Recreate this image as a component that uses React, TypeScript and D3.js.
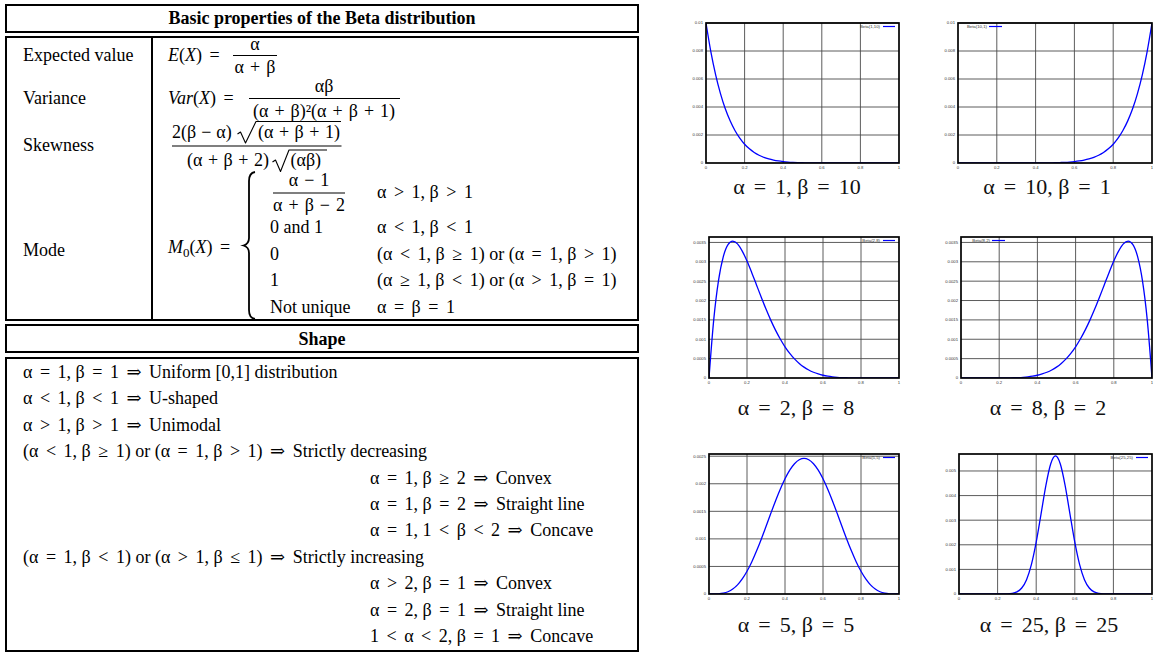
import React from "react";
import * as d3 from "d3";

// ---------- DATA ----------
const xGrid = [0, 0.025, 0.05, 0.075, 0.1, 0.125, 0.15, 0.175, 0.2, 0.225, 0.25, 0.275, 0.3, 0.325, 0.35, 0.375, 0.4, 0.425, 0.45, 0.475, 0.5, 0.525, 0.55, 0.575, 0.6, 0.625, 0.65, 0.675, 0.7, 0.725, 0.75, 0.775, 0.8, 0.825, 0.85, 0.875, 0.9, 0.925, 0.95, 0.975, 1];

const beta_1_10 = [0.01, 0.00796, 0.0063, 0.00496, 0.00387, 0.00301, 0.00232, 0.00177, 0.00134, 0.00101, 0.000751, 0.000554, 0.000404, 0.000291, 0.000207, 0.000146, 0.000101, 0.0000687, 0.0000461, 0.0000303, 0.0000195, 0.0000123, 0.0000076, 0.0000046, 0.0000026, 0.0000014, 0.0000008, 0.0000004, 0.0000002, 0.0000001, 0, 0, 0, 0, 0, 0, 0, 0, 0, 0, 0];

const beta_10_1 = [0, 0, 0, 0, 0, 0, 0, 0, 0, 0, 0, 0.0000001, 0.0000002, 0.0000004, 0.0000008, 0.0000014, 0.0000026, 0.0000046, 0.0000076, 0.0000123, 0.0000195, 0.0000303, 0.0000461, 0.0000687, 0.000101, 0.000146, 0.000207, 0.000291, 0.000404, 0.000554, 0.000751, 0.00101, 0.00134, 0.00177, 0.00232, 0.00301, 0.00387, 0.00496, 0.0063, 0.00796, 0.01];

const beta_2_8 = [0, 0.001508, 0.002514, 0.003129, 0.003444, 0.003534, 0.003463, 0.003277, 0.00302, 0.00272, 0.002403, 0.002085, 0.001779, 0.001494, 0.001235, 0.001006, 0.000806, 0.000636, 0.000493, 0.000376, 0.000281, 0.000206, 0.000148, 0.000104, 0.0000708, 0.0000469, 0.0000301, 0.0000186, 0.000011, 0.0000062, 0.0000033, 0.0000016, 0.0000007, 0.0000003, 0.0000001, 0, 0, 0, 0, 0, 0];

const beta_8_2 = [0, 0, 0, 0, 0, 0, 0.0000001, 0.0000003, 0.0000007, 0.0000016, 0.0000033, 0.0000062, 0.000011, 0.0000186, 0.0000301, 0.0000469, 0.0000708, 0.000104, 0.000148, 0.000206, 0.000281, 0.000376, 0.000493, 0.000636, 0.000806, 0.001006, 0.001235, 0.001494, 0.001779, 0.002085, 0.002403, 0.00272, 0.00302, 0.003277, 0.003463, 0.003534, 0.003444, 0.003129, 0.002514, 0.001508, 0];

const beta_5_5 = [0, 0.00000022, 0.0000032, 0.0000146, 0.0000413, 0.0000902, 0.000166, 0.000274, 0.000413, 0.000582, 0.000779, 0.000995, 0.001225, 0.001459, 0.001688, 0.001901, 0.00209, 0.002247, 0.002364, 0.002436, 0.002461, 0.002436, 0.002364, 0.002247, 0.00209, 0.001901, 0.001688, 0.001459, 0.001225, 0.000995, 0.000779, 0.000582, 0.000413, 0.000274, 0.000166, 0.0000902, 0.0000413, 0.0000146, 0.0000032, 0.00000022, 0];

const beta_25_25 = [0, 0, 0, 0, 0, 0, 0, 0, 0.00000013, 0.000001, 0.0000056, 0.0000246, 0.0000855, 0.000244, 0.000584, 0.001192, 0.002107, 0.00325, 0.004409, 0.005285, 0.005612, 0.005285, 0.004409, 0.00325, 0.002107, 0.001192, 0.000584, 0.000244, 0.0000855, 0.0000246, 0.0000056, 0.000001, 0.00000013, 0, 0, 0, 0, 0, 0, 0, 0];

const xTicks = [0, 0.2, 0.4, 0.6, 0.8, 1];
const yTicks_10 = [0, 0.002, 0.004, 0.006, 0.008, 0.01];
const yTicks_28 = [0, 0.0005, 0.001, 0.0015, 0.002, 0.0025, 0.003, 0.0035];
const yTicks_55 = [0, 0.0005, 0.001, 0.0015, 0.002, 0.0025];
const yTicks_2525 = [0, 0.001, 0.002, 0.003, 0.004, 0.005];

const legendLabels = ["Beta(1,10)", "Beta(10,1)", "Beta(2,8)", "Beta(8,2)", "Beta(5,5)", "Beta(25,25)"];
const captions = ["α = 1, β = 10", "α = 10, β = 1", "α = 2, β = 8", "α = 8, β = 2", "α = 5, β = 5", "α = 25, β = 25"];
const yMaxes = [0.01, 0.01, 0.00364, 0.00364, 0.00254, 0.00569];

const seriesList = [beta_1_10, beta_10_1, beta_2_8, beta_8_2, beta_5_5, beta_25_25];
const tickList = [yTicks_10, yTicks_10, yTicks_28, yTicks_28, yTicks_55, yTicks_2525];

const modeValues = ["0 and 1", "0", "1", "Not unique"];
const modeConditions = ["α > 1, β > 1", "α < 1, β < 1", "(α < 1, β ≥ 1) or (α = 1, β > 1)", "(α ≥ 1, β < 1) or (α > 1, β = 1)", "α = β = 1"];
const shapeLines = [
  "α = 1, β = 1 ⇒ Uniform [0,1] distribution",
  "α < 1, β < 1 ⇒ U-shaped",
  "α > 1, β > 1 ⇒ Unimodal",
  "(α < 1, β ≥ 1) or (α = 1, β > 1) ⇒ Strictly decreasing",
  "α = 1, β ≥ 2 ⇒ Convex",
  "α = 1, β = 2 ⇒ Straight line",
  "α = 1, 1 < β < 2 ⇒ Concave",
  "(α = 1, β < 1) or (α > 1, β ≤ 1) ⇒ Strictly increasing",
  "α > 2, β = 1 ⇒ Convex",
  "α = 2, β = 1 ⇒ Straight line",
  "1 < α < 2, β = 1 ⇒ Concave",
];
const shapeIndented = [false, false, false, false, true, true, true, false, true, true, true];

// ---------- LAYOUT ----------
const boxes = [
  { l: 706, t: 23, r: 899, b: 163, legendLeft: false, cx: 797, cy: 194 },
  { l: 958, t: 23, r: 1152, b: 163, legendLeft: true, cx: 1047, cy: 194 },
  { l: 709, t: 237, r: 899, b: 378, legendLeft: false, cx: 796, cy: 415 },
  { l: 961, t: 237, r: 1152, b: 378, legendLeft: true, cx: 1048, cy: 415 },
  { l: 709, t: 454, r: 899, b: 594, legendLeft: false, cx: 796, cy: 632 },
  { l: 959, t: 454, r: 1152, b: 594, legendLeft: false, cx: 1049, cy: 632 },
];

const SERIF = "'Liberation Serif', 'Times New Roman', 'DejaVu Serif', serif";
const SANS = "'Liberation Sans', Arial, sans-serif";

// math-like spacing around relations and binary operators
function mathSpans(s: string, rel = 3, bin = 1.5) {
  const parts = s.split(/([=<>≥≤⇒+−])/);
  const out: React.ReactNode[] = [];
  let pending = 0;
  parts.forEach((p, i) => {
    if (p === "") return;
    if (/^[=<>≥≤⇒]$/.test(p)) {
      out.push(<tspan key={i} dx={pending + rel}>{p}</tspan>);
      pending = rel;
    } else if (/^[+−]$/.test(p)) {
      out.push(<tspan key={i} dx={pending + bin}>{p}</tspan>);
      pending = bin;
    } else {
      out.push(<tspan key={i} dx={pending}>{p}</tspan>);
      pending = 0;
    }
  });
  return out;
}

function Chart({ idx }: { idx: number }) {
  const box = boxes[idx];
  const values = seriesList[idx];
  const yTicks = tickList[idx];
  const x = d3.scaleLinear().domain([0, 1]).range([box.l, box.r]);
  const y = d3.scaleLinear().domain([0, yMaxes[idx]]).range([box.b, box.t]);
  const line = d3
    .line<number>()
    .x((_, i) => x(xGrid[i]))
    .y((d) => y(d))
    .curve(d3.curveMonotoneX);
  const clipId = `clip${idx}`;
  const ly = box.t + 3.5;
  return (
    <g>
      <defs>
        <clipPath id={clipId}>
          <rect x={box.l} y={box.t - 1} width={box.r - box.l} height={box.b - box.t + 1} />
        </clipPath>
      </defs>
      {xTicks.slice(1, -1).map((v) => (
        <line key={"gx" + v} x1={x(v)} x2={x(v)} y1={box.t} y2={box.b} stroke="#4a4a4a" strokeWidth={0.9} />
      ))}
      {yTicks.slice(1).map((v) => (
        <line key={"gy" + v} x1={box.l} x2={box.r} y1={y(v)} y2={y(v)} stroke="#4a4a4a" strokeWidth={0.9} />
      ))}
      {yTicks.map((v) => (
        <text key={"ty" + v} x={box.l - 3} y={y(v) + 1.4} fontSize={4.2} fontFamily={SANS} fill="#333" textAnchor="end">
          {String(v)}
        </text>
      ))}
      {xTicks.map((v) => (
        <text key={"tx" + v} x={x(v)} y={box.b + 6} fontSize={4.2} fontFamily={SANS} fill="#333" textAnchor="middle">
          {String(v)}
        </text>
      ))}
      <path d={line(values) || ""} fill="none" stroke="#0000ff" strokeWidth={1.3} clipPath={`url(#${clipId})`} />
      {box.legendLeft ? (
        <g>
          <text x={box.l + 29} y={ly + 1.5} fontSize={4.3} fontFamily={SANS} fill="#333" textAnchor="end">
            {legendLabels[idx]}
          </text>
          <line x1={box.l + 31} x2={box.l + 44} y1={ly} y2={ly} stroke="#0000ff" strokeWidth={1.2} />
        </g>
      ) : (
        <g>
          <text x={box.r - 19} y={ly + 1.5} fontSize={4.3} fontFamily={SANS} fill="#333" textAnchor="end">
            {legendLabels[idx]}
          </text>
          <line x1={box.r - 16} x2={box.r - 4} y1={ly} y2={ly} stroke="#0000ff" strokeWidth={1.2} />
        </g>
      )}
      <rect x={box.l} y={box.t} width={box.r - box.l} height={box.b - box.t} fill="none" stroke="#000" strokeWidth={1.7} />
      <text x={box.cx} y={box.cy} fontSize={22} fontFamily={SERIF} textAnchor="middle" fill="#111">
        {mathSpans(captions[idx], 3.5, 2)}
      </text>
    </g>
  );
}

const I = ({ children }: { children: React.ReactNode }) => <tspan fontStyle="italic">{children}</tspan>;

function Frac({ cx, bar, x1, x2, num, den, nb = 7, db = 17 }: any) {
  return (
    <g>
      <text x={cx} y={bar - nb} textAnchor="middle">{mathSpans(num)}</text>
      <line x1={x1} x2={x2} y1={bar} y2={bar} stroke="#000" strokeWidth={1.1} />
      <text x={cx} y={bar + db} textAnchor="middle">{mathSpans(den)}</text>
    </g>
  );
}

function Table() {
  const lx = 23;
  const modeRowsY = [198, 233, 260, 286, 313];
  return (
    <g fontFamily={SERIF} fontSize={18} fill="#000">
      <rect x={6} y={5} width={632} height={27} fill="none" stroke="#000" strokeWidth={2} />
      <text x={322} y={24} fontWeight="bold" textAnchor="middle">Basic properties of the Beta distribution</text>

      <rect x={6} y={37} width={632} height={283} fill="none" stroke="#000" strokeWidth={2} />
      <line x1={152} x2={152} y1={37} y2={320} stroke="#000" strokeWidth={2} />
      <text x={lx} y={61}>Expected value</text>
      <text x={lx} y={104}>Variance</text>
      <text x={lx} y={151}>Skewness</text>
      <text x={lx} y={256}>Mode</text>

      {/* E(X) */}
      <text x={168} y={61}><I>E</I>(<I>X</I>)<tspan dx={3}> =</tspan></text>
      <Frac cx={255} bar={55.5} x1={233} x2={277} num="α" den="α + β" nb={6} db={17} />

      {/* Var(X) */}
      <text x={168} y={104}><I>Var</I>(<I>X</I>)<tspan dx={3}> =</tspan></text>
      <Frac cx={324} bar={98.5} x1={249} x2={400} num="αβ" den="(α + β)²(α + β + 1)" nb={7} db={18} />

      {/* Skewness */}
      <text x={172} y={138}>{mathSpans("2(β − α)", 3, 0.5)}</text>
      <path d="M237.5,134 L240.5,132 L245.5,143 L256,121.5 L341,121.5" fill="none" stroke="#000" strokeWidth={1.1} strokeLinejoin="round" />
      <text x={258} y={138}>{mathSpans("(α + β + 1)", 3, 1)}</text>
      <line x1={172} x2={341.5} y1={146} y2={146} stroke="#000" strokeWidth={1.1} />
      <text x={187} y={166}>{mathSpans("(α + β + 2)", 3, 1)}</text>
      <path d="M272.5,162 L275.5,160 L280.5,171.5 L289,150 L327,150" fill="none" stroke="#000" strokeWidth={1.1} strokeLinejoin="round" />
      <text x={290.5} y={166}>(αβ)</text>

      {/* Mode */}
      <text x={168} y={253}><I>M</I><tspan fontSize={13} dy={4}>0</tspan><tspan dy={-4}>(</tspan><I>X</I>)<tspan dx={3}> =</tspan></text>
      <path d="M255,172 Q249,173 249,181 L249,238 Q249,244 243.5,245.5 Q249,247 249,253 L249,310 Q249,318 255,319" fill="none" stroke="#000" strokeWidth={1.8} />
      <Frac cx={309} bar={193} x1={273} x2={345} num="α − 1" den="α + β − 2" nb={7} db={18} />
      {modeValues.map((s, i) => (
        <text key={"mv" + i} x={270} y={modeRowsY[i + 1]}>{s}</text>
      ))}
      {modeConditions.map((s, i) => (
        <text key={"mc" + i} x={377} y={modeRowsY[i]}>{mathSpans(s)}</text>
      ))}

      {/* Shape */}
      <rect x={6} y={325} width={632} height={27} fill="none" stroke="#000" strokeWidth={2} />
      <text x={322} y={345} fontWeight="bold" textAnchor="middle">Shape</text>

      <rect x={6} y={358} width={632} height={293} fill="none" stroke="#000" strokeWidth={2} />
      {shapeLines.map((s, i) => (
        <text key={i} x={shapeIndented[i] ? 370 : lx} y={378 + i * 26.4}>{mathSpans(s)}</text>
      ))}
    </g>
  );
}

export default function App() {
  return (
    <svg
      width={1153}
      height={653}
      viewBox="0 0 1153 653"
      style={{ position: "absolute", left: 0, top: 0, background: "#fff" }}
    >
      <rect x={0} y={0} width={1153} height={653} fill="#fff" />
      <Table />
      {boxes.map((_, i) => (
        <Chart key={i} idx={i} />
      ))}
    </svg>
  );
}
